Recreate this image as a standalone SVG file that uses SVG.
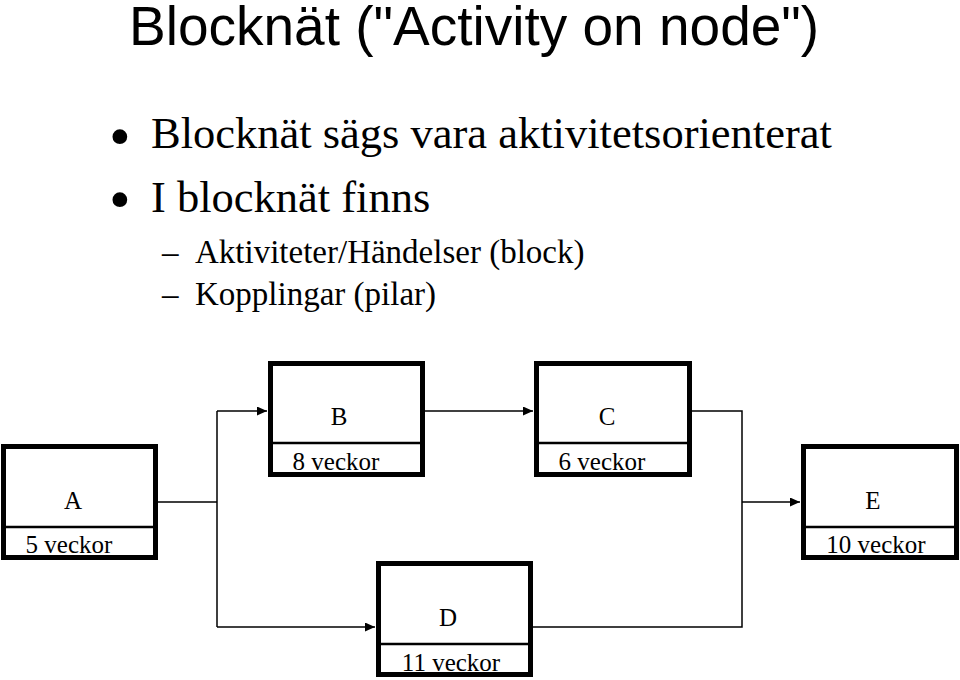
<svg xmlns="http://www.w3.org/2000/svg" width="960" height="680" viewBox="0 0 960 680">
<style>
.title{font-family:"Liberation Sans",Arial,sans-serif;font-size:55px;fill:#000}
.b1{font-family:"Liberation Serif","Times New Roman",serif;font-size:44.5px;fill:#000}
.bul{font-family:"Liberation Serif","Times New Roman",serif;font-size:62px;fill:#000}
.b2{font-family:"Liberation Serif","Times New Roman",serif;font-size:33px;fill:#000}
.lbl{font-family:"Liberation Serif","Times New Roman",serif;font-size:25px;fill:#000;text-anchor:middle}
.box{fill:#fff;stroke:#000;stroke-width:5}
.div{stroke:#000;stroke-width:2.5}
.con{fill:none;stroke:#000;stroke-width:1.5}
</style>
<defs>
<marker id="ah" markerUnits="userSpaceOnUse" markerWidth="11" markerHeight="9" refX="10" refY="4.5" orient="auto">
<path d="M0,0 L10,4.5 L0,9 z" fill="#000"/>
</marker>
</defs>
<rect width="960" height="680" fill="#fff"/>
<text class="title" x="129" y="45">Blocknät ("Activity on node")</text>
<text class="bul" x="109" y="157">•</text>
<text class="b1" x="151" y="148">Blocknät sägs vara aktivitetsorienterat</text>
<text class="bul" x="109" y="220">•</text>
<text class="b1" x="151" y="212">I blocknät finns</text>
<text class="b2" x="162" y="263">–</text>
<text class="b2" x="195" y="263">Aktiviteter/Händelser (block)</text>
<text class="b2" x="162" y="305">–</text>
<text class="b2" x="195" y="305">Kopplingar (pilar)</text>
<g id="connectors">
<path class="con" d="M158,502 H217 M217,411 V627"/>
<path class="con" d="M217,411 H267" marker-end="url(#ah)"/>
<path class="con" d="M217,627 H375" marker-end="url(#ah)"/>
<path class="con" d="M425,411 H533" marker-end="url(#ah)"/>
<path class="con" d="M692,411 H742 V627 H533"/>
<path class="con" d="M742,502 H800" marker-end="url(#ah)"/>
</g>
<g id="node-A">
<rect class="box" x="3.5" y="446.5" width="152" height="111"/>
<line class="div" x1="6" y1="527" x2="153" y2="527"/>
<text class="lbl" x="73" y="509">A</text>
<text class="lbl" x="69" y="553">5 veckor</text>
</g>
<g id="node-B">
<rect class="box" x="270.5" y="363.5" width="152" height="111"/>
<line class="div" x1="273" y1="443" x2="420" y2="443"/>
<text class="lbl" x="339" y="425">B</text>
<text class="lbl" x="336" y="470">8 veckor</text>
</g>
<g id="node-C">
<rect class="box" x="536.5" y="363.5" width="153" height="111"/>
<line class="div" x1="539" y1="443" x2="687" y2="443"/>
<text class="lbl" x="607" y="425">C</text>
<text class="lbl" x="602" y="470">6 veckor</text>
</g>
<g id="node-D">
<rect class="box" x="378.5" y="563.5" width="152" height="111"/>
<line class="div" x1="381" y1="644" x2="528" y2="644"/>
<text class="lbl" x="448" y="626">D</text>
<text class="lbl" x="451" y="671">11 veckor</text>
</g>
<g id="node-E">
<rect class="box" x="803.5" y="446.5" width="153" height="111"/>
<line class="div" x1="806" y1="527" x2="954" y2="527"/>
<text class="lbl" x="873" y="509">E</text>
<text class="lbl" x="876" y="553">10 veckor</text>
</g>
</svg>
